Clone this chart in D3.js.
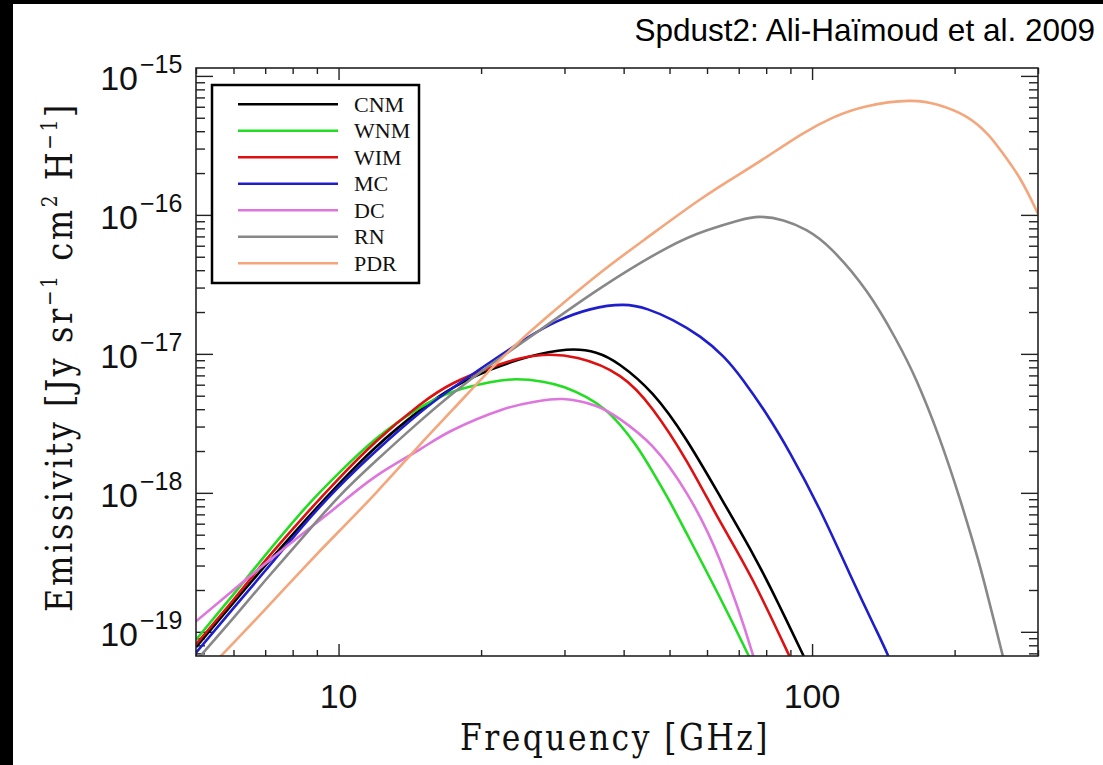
<!DOCTYPE html>
<html><head><meta charset="utf-8">
<script src="https://cdn.jsdelivr.net/npm/d3@7"></script>
<style>body{margin:0;background:#fff;} svg{display:block}</style>
</head><body>
<svg id="chart" width="1103" height="765"></svg>
<script>
// ---------------- data ----------------
const seriesNames  = ["CNM","WNM","WIM","MC","DC","RN","PDR"];
const seriesColors = ["#000000","#22dd22","#dd1111","#1e1ecc","#dd77dd","#888888","#f4a67c"];

const freqCNM = [5,6,7,8.5,10,12,14.8,17.5,20.9,25,30.3,35,39.3,46.1,54.3,63.8,75,85,95.7,100];
const valCNM  = [7.76e-20,1.62e-19,2.99e-19,6.31e-19,1.15e-18,2.14e-18,3.89e-18,5.75e-18,7.67e-18,9.44e-18,1.07e-17,1.02e-17,8.32e-18,5.13e-18,2.40e-18,9.55e-19,3.63e-19,1.58e-19,6.84e-20,5.01e-20];

const freqWNM = [5,6,7,8.5,10,12,14.8,17.5,20.9,23.7,27,30,33.3,36.5,39.3,42.5,46.1,50,54.3,63.8,73.3,78];
const valWNM  = [8.77e-20,1.86e-19,3.55e-19,7.76e-19,1.38e-18,2.45e-18,4.07e-18,5.37e-18,6.24e-18,6.56e-18,6.31e-18,5.75e-18,4.90e-18,3.98e-18,3.09e-18,2.19e-18,1.41e-18,8.71e-19,5.13e-19,1.78e-19,6.84e-20,4.37e-20];

const freqWIM = [5,6,7,8.5,10,12,14.8,17.5,20.9,24,27,32,39.3,46.1,54.3,63.8,75,89.3,95];
const valWIM  = [8.13e-20,1.70e-19,3.24e-19,6.92e-19,1.26e-18,2.34e-18,4.27e-18,6.17e-18,7.94e-18,9.23e-18,9.82e-18,9.33e-18,6.92e-18,3.98e-18,1.70e-18,6.31e-19,2.34e-19,6.84e-20,4.37e-20];

const freqMC  = [5,6,7,8.5,10,12,14.8,17.5,20.9,25,29,34,39.9,45,50.8,58,65,71.5,80,90,103.8,120,135,144.9,155];
const valMC   = [7.08e-20,1.48e-19,2.75e-19,6.03e-19,1.10e-18,2.00e-18,3.74e-18,5.75e-18,8.71e-18,1.30e-17,1.72e-17,2.09e-17,2.25e-17,2.09e-17,1.75e-17,1.33e-17,9.55e-18,6.46e-18,3.72e-18,1.91e-18,7.59e-19,2.63e-19,1.12e-19,6.68e-20,3.80e-20];

const freqDC  = [5,6,7,8.5,10,12,14.8,17.4,22.2,26,29.8,35,39.3,46.1,54.3,63.8,75,80];
const valDC   = [1.19e-19,2.00e-19,3.09e-19,5.25e-19,8.13e-19,1.32e-18,2.04e-18,2.82e-18,3.98e-18,4.52e-18,4.73e-18,4.22e-18,3.39e-18,2.15e-18,1.00e-18,3.31e-19,6.84e-20,2.82e-20];

const freqRN  = [5,6,7,8.5,10,12,14.8,17.5,20.9,26.6,35.6,49.2,60,70,77.5,87,97.3,110,130.4,150,166,185,205,222,232,253.5,265];
const valRN   = [6.17e-20,1.26e-19,2.34e-19,5.01e-19,9.33e-19,1.70e-18,3.24e-18,5.25e-18,8.32e-18,1.48e-17,2.95e-17,5.75e-17,7.76e-17,9.12e-17,9.68e-17,9.12e-17,7.76e-17,5.62e-17,2.82e-17,1.29e-17,6.46e-18,2.57e-18,9.12e-19,3.72e-19,2.14e-19,6.46e-20,3.31e-20];

const freqPDR = [5,6,7,8.5,10,12,14.8,17.5,20.9,24.1,27.9,35.6,45,58,70,80,95,110.7,130,160,185,212,235,250,275,300];
const valPDR  = [4.37e-20,8.32e-20,1.45e-19,2.95e-19,5.25e-19,1.00e-18,2.19e-18,4.03e-18,7.67e-18,1.23e-17,1.91e-17,3.80e-17,6.92e-17,1.29e-16,1.95e-16,2.60e-16,3.80e-16,5.01e-16,6.03e-16,6.61e-16,6.17e-16,5.07e-16,3.80e-16,2.92e-16,1.82e-16,1.02e-16];

const xDomain = [5, 300];
const yDomain = [6.7e-20, 1.14e-15];
const xTickLabels = [10, 100];
const yTickExponents = [-15, -16, -17, -18, -19];

const titleText = "Spdust2: Ali-Haïmoud et al. 2009";
const xTitle = "Frequency [GHz]";

// ---------------- layout ----------------
const svg = d3.select("#chart");
const L = 196, R = 1038, T = 68, B = 656;
const x = d3.scaleLog().domain(xDomain).range([L, R]);
const y = d3.scaleLog().domain(yDomain).range([B, T]);

const series = [
  {f: freqCNM, v: valCNM}, {f: freqWNM, v: valWNM}, {f: freqWIM, v: valWIM},
  {f: freqMC, v: valMC}, {f: freqDC, v: valDC}, {f: freqRN, v: valRN}, {f: freqPDR, v: valPDR}
];

// black border strips
svg.append("rect").attr("x",0).attr("y",0).attr("width",1103).attr("height",4).attr("fill","#000");
svg.append("rect").attr("x",0).attr("y",0).attr("width",13).attr("height",765).attr("fill","#000");

// title
svg.append("text").attr("x",1095).attr("y",41).attr("text-anchor","end")
  .attr("font-family","'Liberation Sans', Arial, sans-serif").attr("font-size",31.5).attr("fill","#000")
  .text(titleText);

// clip
svg.append("clipPath").attr("id","clip").append("rect")
  .attr("x",L).attr("y",T).attr("width",R-L).attr("height",B-T);

// ticks
const isMajor = t => Math.abs(Math.log10(t) - Math.round(Math.log10(t))) < 1e-6;
const xt = x.ticks(), yt = y.ticks();
const xMaj = xt.filter(isMajor), xMin = xt.filter(t => !isMajor(t));
const yMaj = yt.filter(isMajor), yMin = yt.filter(t => !isMajor(t));

function addAxis(gen, tr){
  const g = svg.append("g").attr("transform", tr).call(gen);
  g.select(".domain").remove();
  g.selectAll("text").remove();
  g.selectAll("line").attr("stroke","#222").attr("stroke-width",1.4);
}
addAxis(d3.axisBottom(x).tickValues(xMaj).tickSize(-12), `translate(0,${B})`);
addAxis(d3.axisBottom(x).tickValues(xMin).tickSize(-6), `translate(0,${B})`);
addAxis(d3.axisTop(x).tickValues(xMaj).tickSize(-12), `translate(0,${T})`);
addAxis(d3.axisTop(x).tickValues(xMin).tickSize(-6), `translate(0,${T})`);
addAxis(d3.axisLeft(y).tickValues(yMaj).tickSize(-17), `translate(${L},0)`);
addAxis(d3.axisLeft(y).tickValues(yMin).tickSize(-9), `translate(${L},0)`);
addAxis(d3.axisRight(y).tickValues(yMaj).tickSize(-17), `translate(${R},0)`);
addAxis(d3.axisRight(y).tickValues(yMin).tickSize(-9), `translate(${R},0)`);

// curves
const line = d3.line().curve(d3.curveNatural);
const plot = svg.append("g").attr("clip-path","url(#clip)");
series.forEach((s, i) => {
  const pts = s.f.map((f, k) => [x(f), y(s.v[k])]);
  plot.append("path").attr("d", line(pts)).attr("fill","none")
    .attr("stroke", seriesColors[i]).attr("stroke-width", 2.6).attr("stroke-linejoin","round");
});

// frame
svg.append("rect").attr("x",L).attr("y",T).attr("width",R-L).attr("height",B-T)
  .attr("fill","none").attr("stroke","#222").attr("stroke-width",1.6);

// x tick labels
const sans = "'Liberation Sans', Arial, sans-serif";
xTickLabels.forEach(v => {
  svg.append("text").attr("x", x(v)).attr("y", 708).attr("text-anchor","middle")
    .attr("font-family", sans).attr("font-size", 34).attr("fill","#111").text(String(v));
});
// y tick labels
yTickExponents.forEach(e => {
  const yy = y(Math.pow(10, e));
  svg.append("text").attr("x",138).attr("y",yy+14).attr("text-anchor","end")
    .attr("font-family", sans).attr("font-size",34).attr("fill","#111").text("10");
  svg.append("text").attr("x",140).attr("y",yy-3).attr("text-anchor","start")
    .attr("font-family", sans).attr("font-size",25).attr("fill","#111").text("\u2212" + Math.abs(e));
});

// axis titles
const serif = "'DejaVu Serif', serif";
const xt2 = svg.append("text").attr("x",615).attr("y",750).attr("text-anchor","middle")
  .attr("font-family", serif).attr("font-size",38).attr("letter-spacing",3).attr("fill","#111").text(xTitle);
{
  const w = xt2.node().getBBox().width;
  xt2.attr("transform", `translate(615,0) scale(${310/w},1) translate(-615,0)`);
}
const yg = svg.append("g");
const yt2 = yg.append("text").attr("x",0).attr("y",0).attr("text-anchor","middle")
  .attr("font-family", serif).attr("font-size",38).attr("letter-spacing",3).attr("fill","#111");
yt2.append("tspan").text("Emissivity [Jy sr");
yt2.append("tspan").attr("dy",-15).attr("font-size",22).text("\u22121");
yt2.append("tspan").attr("dy",15).text(" cm");
yt2.append("tspan").attr("dy",-15).attr("font-size",22).text("2");
yt2.append("tspan").attr("dy",15).text(" H");
yt2.append("tspan").attr("dy",-15).attr("font-size",22).text("\u22121");
yt2.append("tspan").attr("dy",15).text("]");
{
  const bb = yt2.node().getBBox();
  const cx = bb.x + bb.width/2;
  yg.attr("transform", `translate(72,357) rotate(-90) scale(${510/bb.width},1) translate(${-cx},0)`);
}

// legend
svg.append("rect").attr("x",212).attr("y",85).attr("width",207).attr("height",198)
  .attr("fill","#fff").attr("stroke","#000").attr("stroke-width",2.5);
seriesNames.forEach((n, i) => {
  const cy = 104.3 + i*26.5;
  svg.append("line").attr("x1",238).attr("x2",338).attr("y1",cy).attr("y2",cy)
    .attr("stroke", seriesColors[i]).attr("stroke-width",2.6);
  svg.append("text").attr("x",354).attr("y",cy+7.5)
    .attr("font-family","'Liberation Serif', 'Times New Roman', serif").attr("font-size",22)
    .attr("fill","#111").text(n);
});
</script>
</body></html>
